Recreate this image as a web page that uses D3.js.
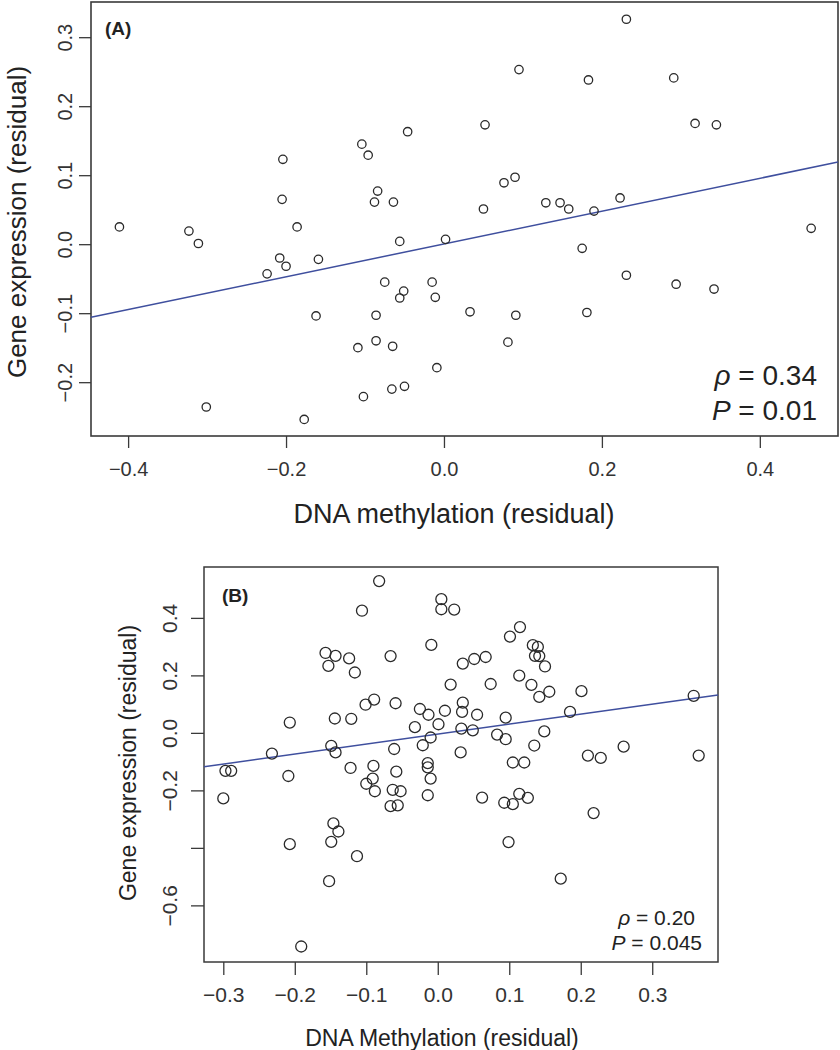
<!DOCTYPE html>
<html><head><meta charset="utf-8">
<script src="https://cdn.jsdelivr.net/npm/d3@7"></script>
<style>
body{margin:0;background:#fff;}
svg{display:block;font-family:"Liberation Sans",Arial,Helvetica,sans-serif;}
</style></head>
<body>
<svg id="chart" width="840" height="1050"></svg>
<script>
// ---------- Panel A data ----------
const methA = [-0.411,-0.323,-0.311,-0.301,-0.224,-0.208,-0.200,-0.204,-0.205,-0.186,-0.177,-0.159,-0.162,-0.109,-0.104,-0.102,-0.096,-0.088,-0.084,-0.086,-0.086,-0.075,-0.066,-0.065,-0.064,-0.056,-0.056,-0.051,-0.050,-0.046,-0.015,-0.011,-0.009,0.002,0.033,0.050,0.052,0.076,0.081,0.090,0.091,0.095,0.129,0.147,0.158,0.175,0.181,0.183,0.190,0.223,0.231,0.231,0.291,0.294,0.318,0.345,0.342,0.465];
const exprA = [0.025,0.019,0.001,-0.236,-0.043,-0.020,-0.032,0.123,0.065,0.025,-0.254,-0.022,-0.104,-0.150,0.145,-0.221,0.129,0.061,0.077,-0.103,-0.140,-0.055,-0.210,-0.148,0.061,0.004,-0.078,-0.068,-0.206,0.163,-0.055,-0.077,-0.179,0.007,-0.098,0.051,0.173,0.089,-0.142,0.097,-0.103,0.253,0.060,0.060,0.051,-0.006,-0.099,0.238,0.048,0.067,0.326,-0.045,0.241,-0.058,0.175,0.173,-0.065,0.023];
const fitLineA_x = [-0.447, 0.499];
const fitLineA_y = [-0.106, 0.119];
const xTicksA = [-0.4,-0.2,0.0,0.2,0.4];
const yTicksA = [-0.2,-0.1,0.0,0.1,0.2,0.3];
const statsA = ["0.34","0.01"];

// ---------- Panel B data ----------
const methB = [-0.082,-0.106,0.005,0.005,0.023,-0.009,-0.157,-0.143,-0.153,-0.124,-0.116,-0.066,0.035,0.018,-0.101,-0.089,-0.059,-0.144,-0.121,-0.207,-0.025,-0.013,0.010,0.035,0.034,-0.032,0.001,0.033,0.049,-0.010,-0.149,-0.143,-0.232,-0.061,-0.021,0.032,-0.297,-0.289,0.115,0.101,0.133,0.140,0.136,0.142,0.150,0.051,0.067,0.114,0.074,0.131,0.142,0.156,0.201,0.358,0.185,0.095,0.055,0.083,0.095,0.149,0.135,0.210,0.228,0.260,0.365,0.105,0.121,-0.209,-0.300,-0.122,-0.090,-0.091,-0.100,-0.088,-0.058,-0.063,-0.052,-0.066,-0.056,-0.014,-0.014,-0.010,-0.014,-0.146,-0.139,-0.149,-0.207,-0.113,-0.152,-0.191,0.062,0.093,0.105,0.114,0.126,0.218,0.099,0.172];
const exprB = [0.528,0.425,0.465,0.430,0.429,0.306,0.278,0.268,0.233,0.259,0.210,0.267,0.241,0.168,0.098,0.116,0.103,0.050,0.049,0.036,0.083,0.063,0.077,0.105,0.073,0.020,0.030,0.015,0.009,-0.016,-0.045,-0.068,-0.072,-0.056,-0.043,-0.068,-0.132,-0.132,0.368,0.335,0.305,0.299,0.268,0.267,0.231,0.257,0.264,0.199,0.170,0.167,0.125,0.143,0.145,0.129,0.073,0.053,0.063,-0.006,-0.022,0.005,-0.044,-0.079,-0.087,-0.048,-0.079,-0.103,-0.103,-0.150,-0.228,-0.122,-0.115,-0.159,-0.177,-0.203,-0.135,-0.198,-0.203,-0.255,-0.252,-0.105,-0.120,-0.159,-0.217,-0.315,-0.343,-0.379,-0.387,-0.429,-0.516,-0.743,-0.225,-0.243,-0.248,-0.212,-0.226,-0.279,-0.380,-0.507];
const fitLineB_x = [-0.327, 0.392];
const fitLineB_y = [-0.118, 0.132];
const xTicksB = [-0.3,-0.2,-0.1,0.0,0.1,0.2,0.3];
const yTicksB = [-0.6,-0.4,-0.2,0.0,0.2,0.4];
const yTickLabelsB = ["\u22120.6","","\u22120.2","0.0","0.2","0.4"];
const statsB = ["0.20","0.045"];

const svg = d3.select("#chart");
const fmt = d => (d < 0 ? "\u2212" : "") + Math.abs(d).toFixed(1);

function panel(o){
  const g = svg.append("g");
  const x = d3.scaleLinear().domain(o.xDom).range([o.left, o.right]);
  const y = d3.scaleLinear().domain(o.yDom).range([o.bottom, o.top]);
  const axisCol = "#3a3a3a", textCol = "#333";

  g.append("rect").attr("x", o.left).attr("y", o.top)
    .attr("width", o.right - o.left).attr("height", o.bottom - o.top)
    .attr("fill","none").attr("stroke",axisCol).attr("stroke-width",o.boxW);

  const xa = g.append("g").attr("transform",`translate(0,${o.bottom})`)
    .call(d3.axisBottom(x).tickValues(o.xTicks).tickSize(o.tick).tickFormat(fmt));
  xa.select(".domain").remove();
  xa.selectAll("line").attr("stroke",axisCol).attr("stroke-width",1.3);
  xa.selectAll("text").attr("fill",textCol).attr("font-size",o.tickFs)
    .attr("font-family","Liberation Sans, Arial, sans-serif")
    .attr("dy",null).attr("y",o.xTickBase - o.bottom).style("dominant-baseline","alphabetic");

  const ya = g.append("g").attr("transform",`translate(${o.left},0)`)
    .call(d3.axisLeft(y).tickValues(o.yTicks).tickSize(o.tick)
      .tickFormat((d,i) => o.yLabels ? o.yLabels[i] : fmt(d)));
  ya.select(".domain").remove();
  ya.selectAll("line").attr("stroke",axisCol).attr("stroke-width",1.3);
  ya.selectAll("text").attr("fill",textCol).attr("font-size",o.tickFs)
    .attr("font-family","Liberation Sans, Arial, sans-serif")
    .attr("x",null).attr("dy",null).attr("text-anchor","middle")
    .attr("transform",`translate(${o.yTickBase - o.left},0) rotate(-90)`)
    .style("dominant-baseline","alphabetic");

  const line = d3.line().x(d=>x(d[0])).y(d=>y(d[1]));
  g.append("path").datum(d3.zip(o.fitX, o.fitY)).attr("d",line)
    .attr("fill","none").attr("stroke","#3f4f9e").attr("stroke-width",1.5);

  g.append("g").selectAll("circle").data(d3.zip(o.xs, o.ys)).join("circle")
    .attr("cx",d=>x(d[0])).attr("cy",d=>y(d[1])).attr("r",o.r)
    .attr("fill","none").attr("stroke","#2a2a2a").attr("stroke-width",o.ptW);

  g.append("text").attr("x",o.lab[0]).attr("y",o.lab[1]).text(o.label)
    .attr("font-weight","bold").attr("font-size",o.labFs).attr("fill","#222");

  g.append("text").attr("x",o.xtPos[0]).attr("y",o.xtPos[1]).attr("text-anchor","middle")
    .attr("font-size",o.titleFs).attr("fill","#222").text(o.xTitle);
  g.append("text").attr("transform",`translate(${o.ytPos[0]},${o.ytPos[1]}) rotate(-90)`)
    .attr("text-anchor","middle").attr("font-size",o.yTitleFs).attr("fill","#222").text("Gene expression (residual)");

  const t1 = g.append("text").attr("x",o.s1[0]).attr("y",o.s1[1]).attr("text-anchor","end")
    .attr("font-size",o.statFs).attr("fill","#222");
  t1.append("tspan").attr("font-style","italic").text("\u03c1");
  t1.append("tspan").text(" = " + o.stats[0]);
  const t2 = g.append("text").attr("x",o.s2[0]).attr("y",o.s2[1]).attr("text-anchor","end")
    .attr("font-size",o.statFs).attr("fill","#222");
  t2.append("tspan").attr("font-style","italic").text("P");
  t2.append("tspan").text(" = " + o.stats[1]);
}

panel({
  left:91, right:838, top:2, bottom:436,
  xDom:[-0.447,0.499], yDom:[-0.278,0.351],
  xTicks:xTicksA, yTicks:yTicksA, tick:12, tickFs:20,
  xTickBase:476, yTickBase:72,
  xs:methA, ys:exprA, r:4.2, ptW:1.3, boxW:1.6,
  fitX:fitLineA_x, fitY:fitLineA_y,
  label:"(A)", lab:[105,35], labFs:19,
  xTitle:"DNA methylation (residual)", xtPos:[454,523], ytPos:[26,222], titleFs:27, yTitleFs:26,
  stats:statsA, s1:[817,385], s2:[817,420], statFs:28
});

panel({
  left:204, right:718, top:567, bottom:962,
  xDom:[-0.327,0.392], yDom:[-0.797,0.577],
  xTicks:xTicksB, yTicks:yTicksB, yLabels:yTickLabelsB, tick:13, tickFs:21,
  xTickBase:1002, yTickBase:177,
  xs:methB, ys:exprB, r:5.5, ptW:1.3, boxW:1.5,
  fitX:fitLineB_x, fitY:fitLineB_y,
  label:"(B)", lab:[222,602], labFs:19,
  xTitle:"DNA Methylation (residual)", xtPos:[442,1046], ytPos:[136,763], titleFs:23, yTitleFs:23,
  stats:statsB, s1:[695,925], s2:[702,950], statFs:21
});
</script>
</body></html>
